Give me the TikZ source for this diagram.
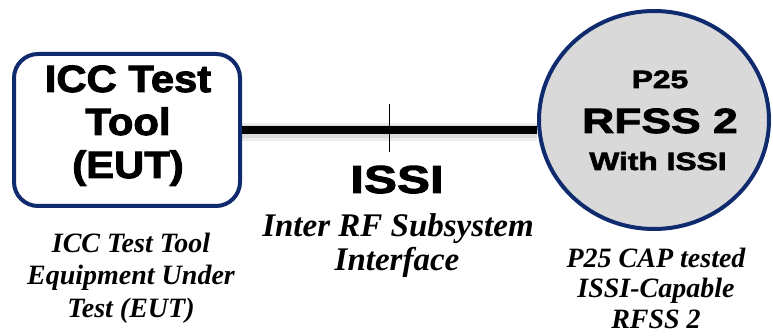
\documentclass[tikz,border=0pt]{standalone}
\usepackage{fontspec}
\setmainfont{Liberation Serif}
\newfontfamily\boxsans{Liberation Sans}[FakeStretch=1.1,BoldFeatures={FakeBold=2.5}]
\newfontfamily\widesans{Liberation Sans}[FakeStretch=1.27,BoldFeatures={FakeBold=2.5}]
\usetikzlibrary{shapes.geometric,backgrounds}
\definecolor{edgeblue}{RGB}{16,42,110}
\definecolor{discgray}{RGB}{217,217,217}
\begin{document}
\begin{tikzpicture}[x=1pt,y=-1pt,
  unitbox/.style={draw=edgeblue,line width=4pt,rounded corners=24pt,
    minimum width=226pt,minimum height=152pt,inner sep=0pt,fill=white},
  unitdisc/.style={ellipse,draw=edgeblue,line width=4pt,fill=discgray,
    minimum width=230pt,minimum height=218pt,inner sep=0pt},
  sanslabel/.style={inner sep=0pt,anchor=base},
  caption/.style={font=\bfseries\itshape\fontsize{28}{32}\selectfont,
    inner sep=0pt,anchor=base},
  bigcaption/.style={caption,font=\bfseries\itshape\fontsize{33}{36}\selectfont},
  link/.style={line width=8.5pt},
  linkhaze/.style={line width=#1,draw=black,opacity=0.08},
]
\useasboundingbox (0,0) rectangle (773,336);

% the two end points of the interface
\node[unitbox] (eut) at (127,130) {};
\node[unitdisc] (rfss) at (654,120) {};

% text inside the test tool box
\node[sanslabel,font=\boxsans\bfseries\fontsize{38}{43}\selectfont] (eut1) at (128,92) {ICC Test};
\node[sanslabel,font=\boxsans\bfseries\fontsize{38}{43}\selectfont] (eut2) at (128,135) {Tool};
\node[sanslabel,font=\boxsans\bfseries\fontsize{38}{43}\selectfont] (eut3) at (128,178) {(EUT)};

% text inside the RFSS disc
\node[sanslabel,font=\widesans\bfseries\fontsize{25}{30}\selectfont] (rf1) at (660,88) {P25};
\node[sanslabel,font=\widesans\bfseries\fontsize{35}{40}\selectfont] (rf2) at (660,133) {RFSS 2};
\node[sanslabel,font=\widesans\bfseries\fontsize{25}{30}\selectfont] (rf3) at (658,170) {With ISSI};

% the ISSI link between them, with its soft shadow and mid tick
\begin{scope}[on background layer]
  \coordinate (la) at (eut.east);
  \coordinate (lb) at (eut.east -| rfss.west);
  \draw[linkhaze=18pt] ([yshift=-2pt]la) -- ([yshift=-2pt]lb);
  \draw[linkhaze=13pt] ([yshift=-2pt]la) -- ([yshift=-2pt]lb);
  \draw[link] (la) -- coordinate[pos=0.5] (mid) (lb);
  \draw[line width=1.2pt] ([yshift=26pt]mid) -- ([yshift=-22pt]mid);
\end{scope}

% interface name and captions
\node[sanslabel,font=\widesans\bfseries\fontsize{39}{44}\selectfont] (issi) at (397,193) {ISSI};
\node[bigcaption] (if1) at (398,237) {Inter RF Subsystem};
\node[bigcaption] (if2) at (397,271) {Interface};

\node[caption] (ec1) at (131,253) {ICC Test Tool};
\node[caption] (ec2) at (131,285) {Equipment Under};
\node[caption] (ec3) at (131,318) {Test (EUT)};

\node[caption] (rc1) at (656,268) {P25 CAP tested};
\node[caption] (rc2) at (656,298) {ISSI-Capable};
\node[caption] (rc3) at (656,328) {RFSS 2};
\end{tikzpicture}
\end{document}
